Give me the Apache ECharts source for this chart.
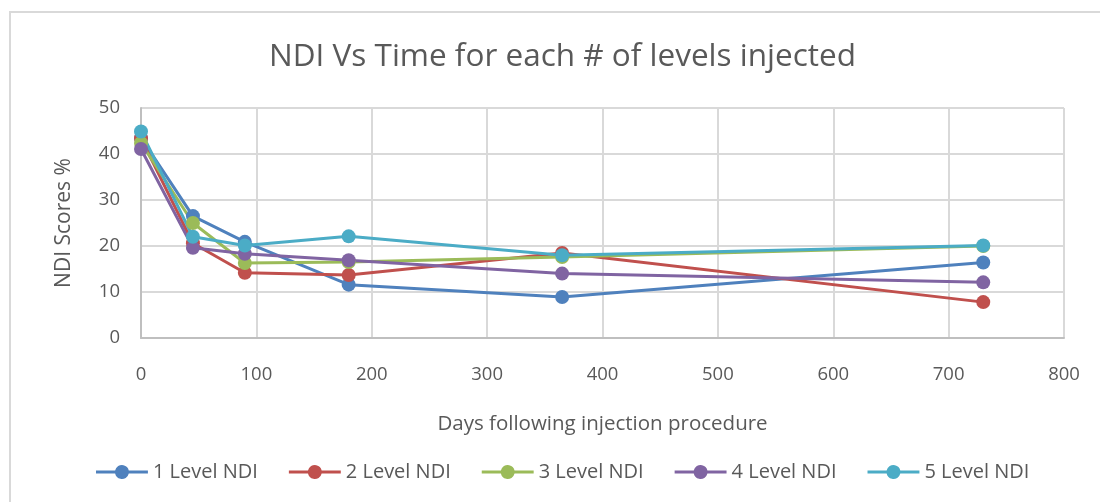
<!DOCTYPE html>
<html><head><meta charset="utf-8">
<script src="https://cdn.jsdelivr.net/npm/echarts@6/dist/echarts.min.js"></script>
<style>html,body{margin:0;padding:0;background:#fff}#c{width:1100px;height:502px}</style>
</head><body><div id="c"></div>
<script>
const days = [0, 45, 90, 180, 365, 730];
const seriesNames = ['1 Level NDI', '2 Level NDI', '3 Level NDI', '4 Level NDI', '5 Level NDI'];
const level1 = [43.5, 26.5, 20.9, 11.6, 8.9, 16.4];
const level2 = [43.4, 20.6, 14.2, 13.7, 18.5, 7.8];
const level3 = [42.4, 25.0, 16.3, 16.5, 17.6, 20.0];
const level4 = [41.1, 19.6, 18.3, 16.9, 14.0, 12.1];
const level5 = [44.9, 22.0, 20.1, 22.1, 18.0, 20.1];
const colors = ['#4f81bd', '#c0504d', '#9bbb59', '#8064a2', '#4bacc6'];
const allLevels = [level1, level2, level3, level4, level5];

const font = '"Open Sans", "Noto Sans", sans-serif';
const legendIcon = 'path://M0,5.5H19.16A7,7 0 0 1 32.84,5.5H52V8.5H32.84A7,7 0 0 1 19.16,8.5H0Z';
const chart = echarts.init(document.getElementById('c'));
chart.setOption({
  animation: false,
  graphic: [{type: 'rect', shape: {x: 10, y: 12, width: 1100, height: 500}, style: {fill: 'none', stroke: '#d9d9d9', lineWidth: 2}, silent: true}],
  title: {text: 'NDI Vs Time for each # of levels injected', left: 264, top: 36,
    textStyle: {fontFamily: font, fontSize: 31.5, fontWeight: 'normal', color: '#595959'}},
  legend: {bottom: 20, left: 96, padding: 0, itemWidth: 52, itemHeight: 14, itemGap: 31,
    icon: legendIcon,
    textStyle: {fontFamily: font, fontSize: 20, color: '#595959'}, data: seriesNames},
  grid: {left: 141, right: 36, top: 108, bottom: 164},
  xAxis: {type: 'value', min: 0, max: 800, interval: 100,
    name: 'Days following injection procedure', nameLocation: 'middle', nameGap: 76,
    nameTextStyle: {fontFamily: font, fontSize: 20.5, color: '#595959'},
    axisLine: {lineStyle: {color: '#bfbfbf', width: 2}}, axisTick: {show: false},
    axisLabel: {fontFamily: font, fontSize: 18.5, color: '#595959', margin: 27},
    splitLine: {show: true, lineStyle: {color: '#d9d9d9', width: 2}}},
  yAxis: {type: 'value', min: 0, max: 50, interval: 10,
    name: 'NDI Scores %', nameLocation: 'middle', nameGap: 66,
    nameTextStyle: {fontFamily: font, fontSize: 21, color: '#595959'},
    axisLine: {show: true, lineStyle: {color: '#bfbfbf', width: 2}}, axisTick: {show: false},
    axisLabel: {fontFamily: font, fontSize: 18.5, color: '#595959', margin: 21},
    splitLine: {show: true, lineStyle: {color: '#d9d9d9', width: 2}}},
  series: allLevels.map((vals, i) => ({
    name: seriesNames[i], type: 'line',
    data: days.map((d, j) => [d, vals[j]]),
    symbol: 'circle', symbolSize: 14,
    lineStyle: {color: colors[i], width: 3},
    itemStyle: {color: colors[i]}
  }))
});
</script></body></html>
